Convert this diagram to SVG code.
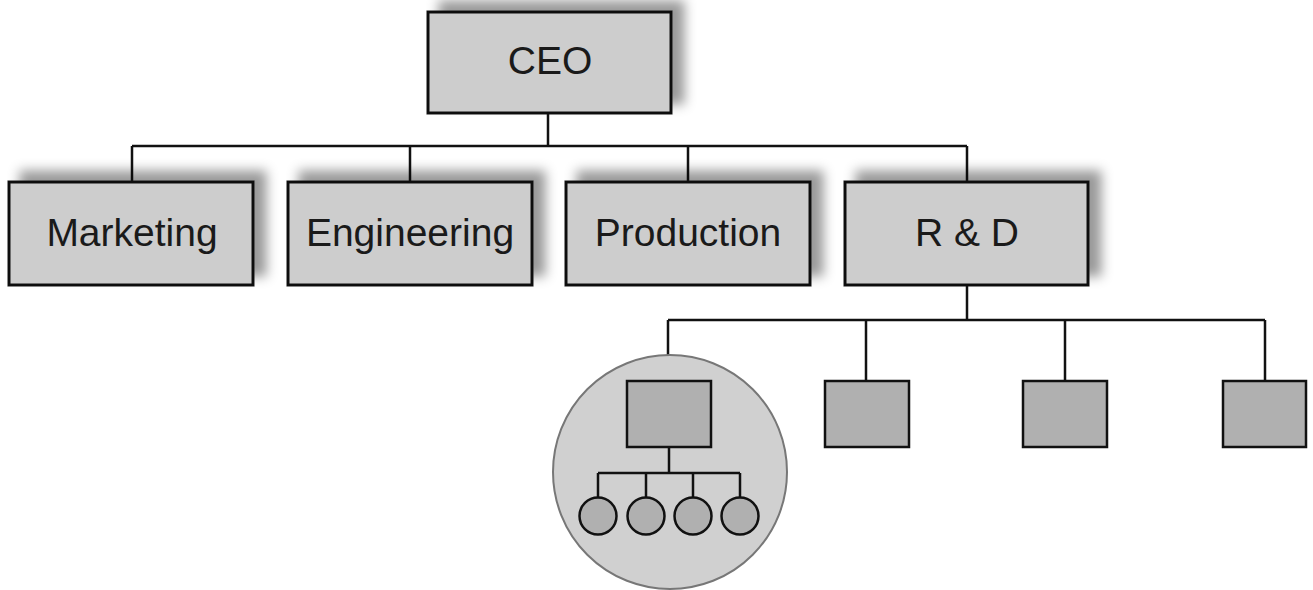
<svg xmlns="http://www.w3.org/2000/svg" width="1313" height="590" viewBox="0 0 1313 590">
  <defs>
    <filter id="shadow" x="-20%" y="-40%" width="140%" height="180%">
      <feGaussianBlur in="SourceAlpha" stdDeviation="6" result="b"/>
      <feOffset in="b" dx="12" dy="-10" result="o"/>
      <feFlood flood-color="#000" flood-opacity="0.4"/>
      <feComposite in2="o" operator="in" result="s"/>
      <feMerge>
        <feMergeNode in="s"/>
        <feMergeNode in="SourceGraphic"/>
      </feMerge>
    </filter>
  </defs>
  <style>
    .box { fill: #cdcdcd; stroke: #111; stroke-width: 3; }
    .sub { fill: #b0b0b0; stroke: #111; stroke-width: 2.5; }
    .lbl { font-family: "Liberation Sans", Arial, sans-serif; font-size: 39px; fill: #1a1a1a; text-anchor: middle; }
    .line { stroke: #111; stroke-width: 2.5; fill: none; }
  </style>
  <rect width="1313" height="590" fill="#fff"/>

  <!-- connectors -->
  <g id="connectors" class="line">
    <path d="M548 113 V146 M132 146 H967 M132 146 V182 M410 146 V182 M688 146 V182 M967 146 V182"/>
    <path d="M967 285 V320 M668 320 H1265 M668 320 V381 M866 320 V381 M1065 320 V381 M1265 320 V381"/>
  </g>

  <g id="ceo">
    <rect class="box" x="428" y="12" width="243" height="101" filter="url(#shadow)"/>
    <text class="lbl" x="550" y="74">CEO</text>
  </g>
  <g id="marketing">
    <rect class="box" x="9" y="182" width="244" height="103" filter="url(#shadow)"/>
    <text class="lbl" x="132" y="246">Marketing</text>
  </g>
  <g id="engineering">
    <rect class="box" x="288" y="182" width="244" height="103" filter="url(#shadow)"/>
    <text class="lbl" x="410" y="246">Engineering</text>
  </g>
  <g id="production">
    <rect class="box" x="566" y="182" width="244" height="103" filter="url(#shadow)"/>
    <text class="lbl" x="688" y="246">Production</text>
  </g>
  <g id="rnd">
    <rect class="box" x="845" y="182" width="243" height="103" filter="url(#shadow)"/>
    <text class="lbl" x="967" y="246">R &amp; D</text>
  </g>

  <!-- department unit with its own sub-hierarchy -->
  <g id="unit-1">
    <circle cx="670" cy="472" r="117" fill="#d0d0d0" stroke="#777" stroke-width="2"/>
    <rect class="sub" x="627" y="381" width="84" height="66"/>
    <path class="line" d="M669 447 V473 M598 473 H740 M598 473 V498 M646 473 V498 M693 473 V498 M740 473 V498"/>
    <circle class="sub" cx="598" cy="516" r="18.5"/>
    <circle class="sub" cx="646" cy="516" r="18.5"/>
    <circle class="sub" cx="693" cy="516" r="18.5"/>
    <circle class="sub" cx="740" cy="516" r="18.5"/>
  </g>
  <g id="unit-2">
    <rect class="sub" x="825" y="381" width="84" height="66"/>
  </g>
  <g id="unit-3">
    <rect class="sub" x="1023" y="381" width="84" height="66"/>
  </g>
  <g id="unit-4">
    <rect class="sub" x="1223" y="381" width="83" height="66"/>
  </g>
</svg>
